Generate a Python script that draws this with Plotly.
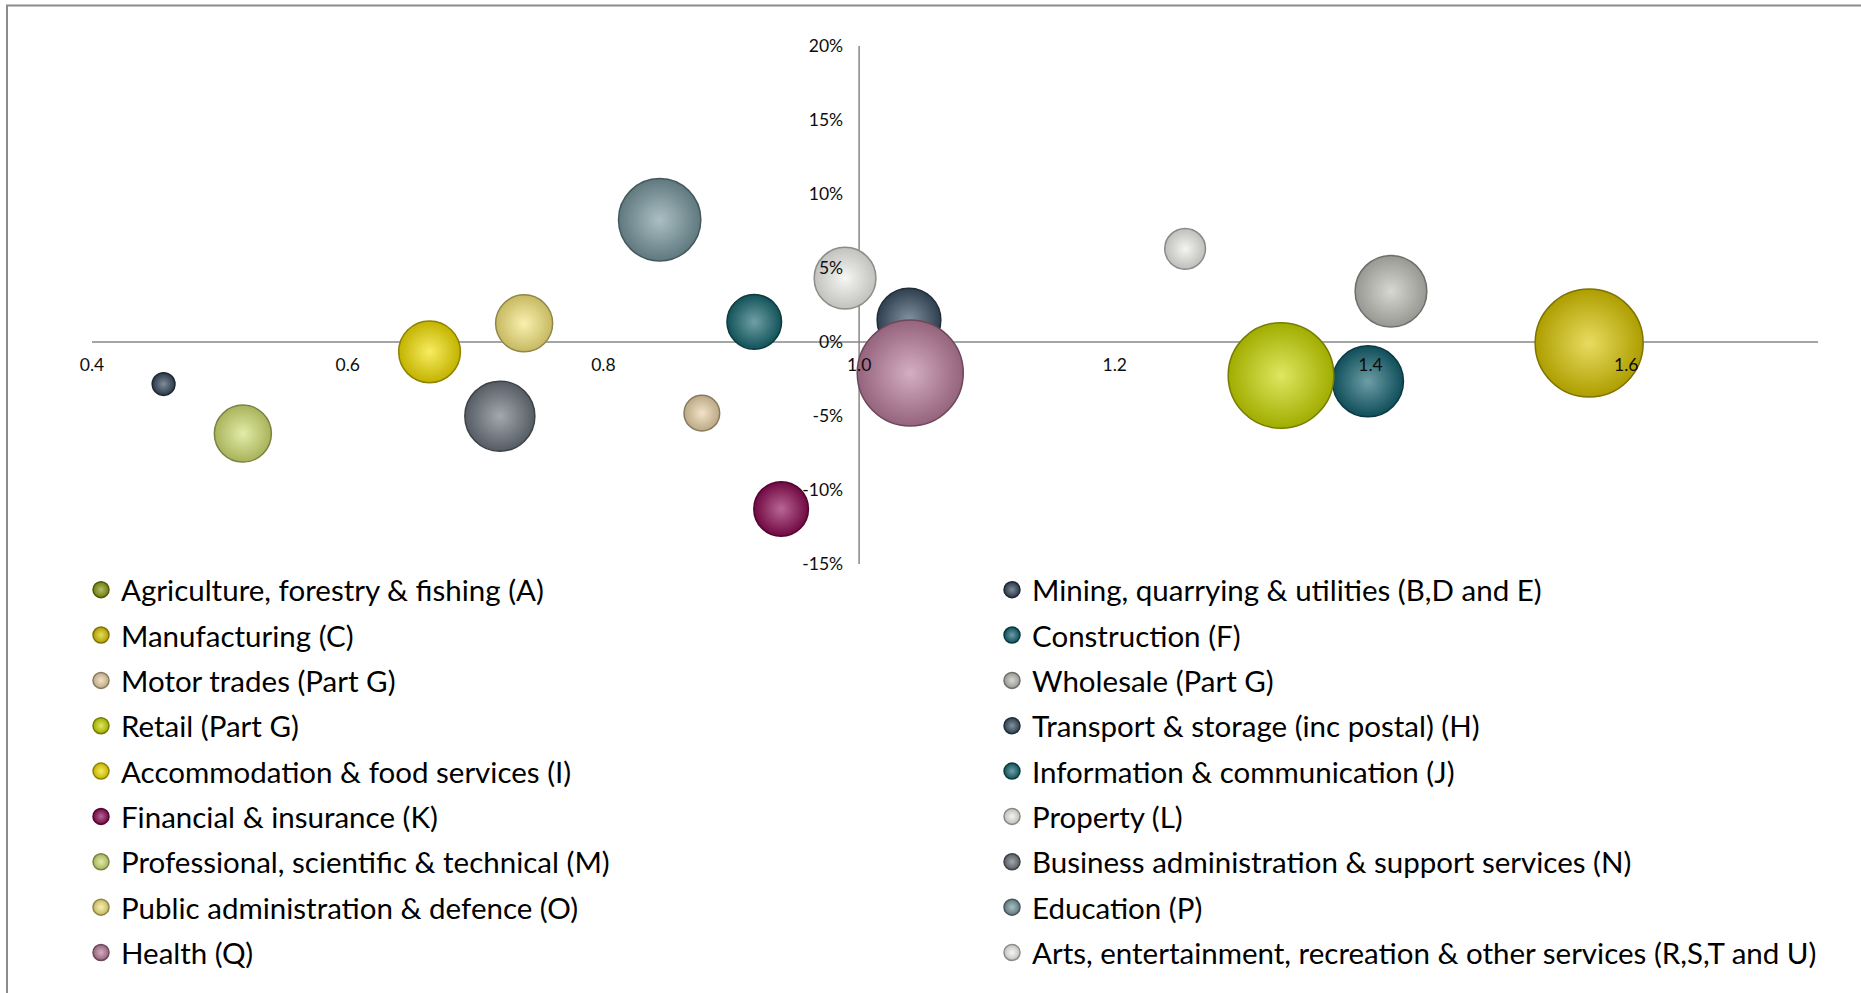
import plotly.graph_objects as go

# Industry sectors, in legend order (row by row across the two columns)
sectors = [
    "Agriculture, forestry & fishing (A)",
    "Mining, quarrying & utilities (B,D and E)",
    "Manufacturing (C)",
    "Construction (F)",
    "Motor trades (Part G)",
    "Wholesale (Part G)",
    "Retail (Part G)",
    "Transport & storage (inc postal) (H)",
    "Accommodation & food services (I)",
    "Information & communication (J)",
    "Financial & insurance (K)",
    "Property (L)",
    "Professional, scientific & technical (M)",
    "Business administration & support services (N)",
    "Public administration & defence (O)",
    "Education (P)",
    "Health (Q)",
    "Arts, entertainment, recreation & other services (R,S,T and U)",
]

# Location quotient (x axis)
location_quotient = [None, 0.456, 1.571, 1.398, 0.877, 1.416, 1.330, 1.039, 0.664,
                     0.918, 0.939, 1.255, 0.518, 0.719, 0.738, 0.844, 1.040, 0.989]

# Employment change (y axis, fraction)
employment_change = [None, -0.0284, -0.0007, -0.0266, -0.0481, 0.0343, -0.0226, 0.0148, -0.0066,
                     0.0136, -0.1128, 0.0630, -0.0619, -0.0501, 0.0126, 0.0826, -0.0210, 0.0431]

# Employment (bubble size)
employment = [None, 520, 11660, 5040, 1270, 5140, 11150, 4060, 3810,
              2980, 2980, 1660, 3250, 4900, 3250, 6770, 11240, 3810]

# Axis ticks
x_ticks = [0.4, 0.6, 0.8, 1.0, 1.2, 1.4, 1.6]
x_tick_text = ["0.4", "0.6", "0.8", "1.0", "1.2", "1.4", "1.6"]
y_ticks = [-0.15, -0.10, -0.05, 0.0, 0.05, 0.10, 0.15, 0.20]
y_tick_text = ["-15%", "-10%", "-5%", "0%", "5%", "10%", "15%", "20%"]

# Sphere body colours, one per sector
palette = [
    "#8a9a0e", "#33465a", "#dac600", "#136270", "#ead2a6", "#bebeb8",
    "#c9d800", "#394f63", "#f4e000", "#16666f", "#8c0a52", "#ededE8",
    "#d2e072", "#6b737d", "#f7e77c", "#77979f", "#ba7c9c", "#f1f1ed",
]


def mix(hex_color, target, t):
    r, g, b = (int(hex_color[i:i + 2], 16) for i in (1, 3, 5))
    tr, tg, tb = target
    return "#%02x%02x%02x" % (round(r + (tr - r) * t), round(g + (tg - g) * t), round(b + (tb - b) * t))


W, H = 1861, 993
margin = dict(l=92, r=43, t=46, b=429, autoexpand=False)
x_range = [0.4, 1.75]
y_range = [-0.15, 0.20]
x_cross, y_cross = 1.0, 0.0

max_diameter = 108
valid_sizes = [s for s in employment if s is not None]
size_ref = 2 * max(valid_sizes) / (max_diameter ** 2)

font_family = "Lato, 'Open Sans', sans-serif"

fig = go.Figure()
for i, name in enumerate(sectors):
    body = palette[i]
    has_value = employment[i] is not None
    fig.add_trace(go.Scatter(
        x=[location_quotient[i]],
        y=[employment_change[i]],
        name=name,
        mode="markers",
        legend="legend" if i % 2 == 0 else "legend2",
        legendgroup=name,
        marker=dict(
            size=[employment[i]] if has_value else 16,
            sizemode="area",
            sizeref=size_ref,
            color=mix(body, (0, 0, 0), 0.2),
            gradient=dict(type="radial", color=mix(body, (255, 255, 255), 0.38)),
            line=dict(width=1.5, color=mix(body, (0, 0, 0), 0.42)),
            opacity=1,
        ),
        hovertemplate="%{fullData.name}<br>LQ %{x:.2f}<br>%{y:.1%}<extra></extra>",
    ))

axis_color = "#878787"
# Axes crossing at (1.0, 0%), drawn under the bubbles
fig.add_shape(type="line", xref="x", yref="y", x0=x_range[0], x1=x_range[1], y0=y_cross, y1=y_cross,
              line=dict(color=axis_color, width=1.5), layer="below")
fig.add_shape(type="line", xref="x", yref="y", x0=x_cross, x1=x_cross, y0=y_range[0], y1=y_range[1],
              line=dict(color=axis_color, width=1.5), layer="below")

# Outer chart frame
plot_w = W - margin["l"] - margin["r"]
plot_h = H - margin["t"] - margin["b"]
fig.add_shape(type="rect", xref="paper", yref="paper",
              x0=(7 - margin["l"]) / plot_w, x1=(W + 20 - margin["l"]) / plot_w,
              y0=-(margin["b"] + 20) / plot_h, y1=1 + (margin["t"] - 5.5) / plot_h,
              line=dict(color="#8c8c8c", width=2), fillcolor="rgba(0,0,0,0)", layer="below")

tick_font = dict(family=font_family, size=17.5, color="#0d0d0d")
fig.update_xaxes(
    range=x_range, anchor="free",
    position=(y_cross - y_range[0]) / (y_range[1] - y_range[0]),
    tickvals=x_ticks, ticktext=x_tick_text, tickfont=tick_font,
    showgrid=False, zeroline=False, showline=False, ticks="",
    ticklabelstandoff=10,
)
fig.update_yaxes(
    range=y_range, anchor="free",
    position=(x_cross - x_range[0]) / (x_range[1] - x_range[0]),
    tickvals=y_ticks, ticktext=y_tick_text, tickfont=tick_font,
    showgrid=False, zeroline=False, showline=False, ticks="",
    ticklabelstandoff=16,
)

legend_font = dict(family=font_family, size=29.5, color="#000000")
legend_common = dict(
    xanchor="left", yanchor="top",
    orientation="v", font=legend_font, itemsizing="trace",
    tracegroupgap=4, bgcolor="rgba(0,0,0,0)", borderwidth=0,
    itemclick=False, itemdoubleclick=False,
)
# Legend placement, converted from pixel offsets to paper fractions
legend_top = -(564 - margin["t"] - plot_h) / plot_h


def paper_x(px):
    return (px - margin["l"]) / plot_w


fig.update_layout(
    width=W, height=H,
    margin=margin,
    paper_bgcolor="white", plot_bgcolor="white",
    showlegend=True,
    legend=dict(x=paper_x(101 - 20), y=legend_top, **legend_common),
    legend2=dict(x=paper_x(1012 - 20), y=legend_top, **legend_common),
    font=dict(family=font_family),
)

fig.write_html("out.html")
